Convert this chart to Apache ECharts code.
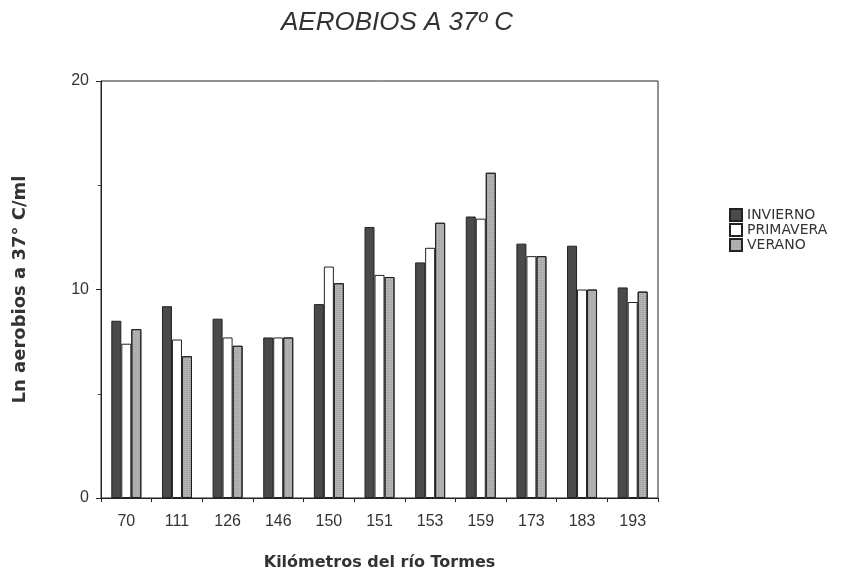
<!DOCTYPE html>
<html>
<head>
<meta charset="utf-8">
<script src="https://cdn.jsdelivr.net/npm/echarts@6/dist/echarts.min.js"></script>
<style>html,body{margin:0;padding:0;background:#fff}#c{width:860px;height:574px}</style>
</head>
<body>
<div id="c"></div>
<script>
const categories = ['70','111','126','146','150','151','153','159','173','183','193'];
const invierno  = [8.5, 9.2, 8.6, 7.7, 9.3, 13.0, 11.3, 13.5, 12.2, 12.1, 10.1];
const primavera = [7.4, 7.6, 7.7, 7.7, 11.1, 10.7, 12.0, 13.4, 11.6, 10.0, 9.4];
const verano    = [8.1, 6.8, 7.3, 7.7, 10.3, 10.6, 13.2, 15.6, 11.6, 10.0, 9.9];
const yTicks = [0, 10, 20];

const chart = echarts.init(document.getElementById('c'), null, {renderer: 'canvas'});
const font = 'Liberation Sans, Arial, sans-serif';
const wideFont = 'DejaVu Sans, sans-serif';
chart.setOption({
  animation: false,
  backgroundColor: '#fff',
  title: {
    text: 'AEROBIOS A 37º C',
    left: 392, top: 5, textAlign: 'center',
    textStyle: {fontFamily: font, fontStyle: 'italic', fontWeight: 'normal', fontSize: 26, color: '#333'}
  },
  legend: {
    orient: 'vertical', left: 724, top: 203,
    icon: 'rect',
    itemWidth: 12, itemHeight: 12, itemGap: 1,
    textStyle: {fontFamily: wideFont, fontSize: 14, color: '#333', lineHeight: 14},
    data: ['INVIERNO', 'PRIMAVERA', 'VERANO']
  },
  grid: {left: 101, right: 202, top: 81, bottom: 76, show: true, borderColor: '#222', borderWidth: 1,
         containLabel: false, outerBoundsMode: 'none'},
  xAxis: {
    type: 'category', data: categories,
    name: 'Kilómetros del río Tormes', nameLocation: 'middle', nameGap: 57,
    nameTextStyle: {fontFamily: wideFont, fontWeight: 'bold', fontSize: 16, color: '#333'},
    axisLine: {lineStyle: {color: '#222'}},
    axisTick: {show: true, length: 4, lineStyle: {color: '#222'}},
    axisLabel: {fontFamily: font, fontSize: 16, color: '#333', margin: 16}
  },
  yAxis: {
    type: 'value', min: yTicks[0], max: yTicks[yTicks.length - 1], interval: 10,
    name: 'Ln aerobios a 37° C/ml', nameLocation: 'middle', nameGap: 72,
    nameTextStyle: {fontFamily: wideFont, fontWeight: 'bold', fontSize: 18, color: '#333'},
    axisLine: {show: true, lineStyle: {color: '#222'}},
    axisTick: {show: true, length: 5, lineStyle: {color: '#222'}},
    minorTick: {show: true, splitNumber: 2, length: 3, lineStyle: {color: '#444'}},
    splitLine: {show: false},
    axisLabel: {fontFamily: font, fontSize: 16, color: '#333', margin: 12}
  },
  series: [
    {name: 'INVIERNO', type: 'bar', data: invierno, barWidth: 10, barGap: '0%', barCategoryGap: '35%',
     itemStyle: {color: '#4a4a4a', borderColor: '#222', borderWidth: 1}},
    {name: 'PRIMAVERA', type: 'bar', data: primavera, barWidth: 10, barGap: '0%',
     itemStyle: {color: '#ffffff', borderColor: '#222', borderWidth: 1}},
    {name: 'VERANO', type: 'bar', data: verano, barWidth: 10, barGap: '0%',
     itemStyle: {color: '#b4b4b4', borderColor: '#222', borderWidth: 1,
       decal: {symbol: 'rect', symbolSize: 0.6, dashArrayX: [2, 1], dashArrayY: [1, 1], color: 'rgba(60,60,60,0.45)', rotation: 0}}}
  ]
});
</script>
</body>
</html>
